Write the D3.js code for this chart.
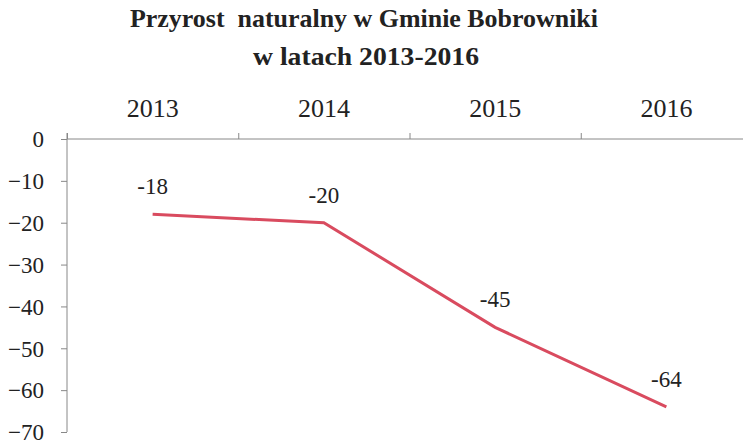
<!DOCTYPE html>
<html>
<head>
<meta charset="utf-8">
<script src="https://cdn.jsdelivr.net/npm/d3@7"></script>
<style>
  body { margin: 0; background: #fff; }
  svg { display: block; }
</style>
</head>
<body>
<div id="chart"></div>
<script>
// Données
const years = ['2013', '2014', '2015', '2016'];
const values = [-18, -20, -45, -64];
const yTicks = [0, -10, -20, -30, -40, -50, -60, -70];
const titleLines = ['Przyrost  naturalny w Gminie Bobrowniki', 'w latach 2013-2016'];

const serif = "'Liberation Serif', serif";
const width = 743, height = 441;
const svg = d3.select('#chart')
    .append('svg')
    .attr('width', width)
    .attr('height', height)
    .attr('font-family', serif);

const plotLeft = 67, plotRight = 752, plotTop = 139, plotBottom = 432;

// Échelles
const x = d3.scaleBand()
    .domain(years)
    .range([plotLeft, plotRight]);

const xEdge = d3.scaleLinear()
    .domain([0, years.length])
    .range([plotLeft, plotRight]);

const y = d3.scaleLinear()
    .domain([0, -70])
    .range([plotTop, plotBottom]);

// Titre (légèrement étiré comme dans le scan)
const titleWidths = [468, 226];
svg.append('g')
    .selectAll('text')
    .data(titleLines)
    .enter()
    .append('text')
    .attr('x', (d, i) => i === 0 ? 364 : 366)
    .attr('y', (d, i) => 27 + i * 38)
    .attr('text-anchor', 'middle')
    .attr('font-family', serif)
    .attr('font-size', '25px')
    .attr('font-weight', 'bold')
    .attr('fill', '#222')
    .attr('textLength', (d, i) => titleWidths[i])
    .attr('lengthAdjust', 'spacingAndGlyphs')
    .style('white-space', 'pre')
    .text(d => d);

// Axe X (en haut)
const xAxis = svg.append('g')
    .attr('transform', `translate(0,${plotTop})`)
    .call(d3.axisTop(xEdge).tickValues(d3.range(years.length)).tickSize(6).tickFormat(''));
xAxis.select('.domain').attr('stroke', '#888').attr('d', `M${plotLeft},0H${plotRight}`);
xAxis.selectAll('.tick line').attr('stroke', '#888');

svg.append('g')
    .selectAll('text')
    .data(years)
    .enter()
    .append('text')
    .attr('x', d => x(d) + x.bandwidth() / 2)
    .attr('y', 117)
    .attr('text-anchor', 'middle')
    .attr('font-family', serif)
    .attr('font-size', '26px')
    .attr('fill', '#222')
    .text(d => d);

// Axe Y
const yAxis = svg.append('g')
    .attr('transform', `translate(${plotLeft},0)`)
    .call(d3.axisLeft(y).tickValues(yTicks).tickSize(6).tickPadding(17));
yAxis.attr('font-family', serif);
yAxis.select('.domain').attr('stroke', '#888').attr('d', `M0,${plotTop - 6}V${plotBottom}`);
yAxis.selectAll('.tick line').attr('stroke', '#888');
yAxis.selectAll('.tick text')
    .attr('font-family', serif)
    .attr('font-size', '23px')
    .attr('fill', '#222')
    .attr('dy', '0.34em');

// Ligne
const line = d3.line()
    .x((d, i) => x(years[i]) + x.bandwidth() / 2)
    .y(d => y(d));

svg.append('path')
    .datum(values)
    .attr('d', line)
    .attr('fill', 'none')
    .attr('stroke', '#d94b5f')
    .attr('stroke-width', 3);

// Étiquettes
svg.append('g')
    .selectAll('text')
    .data(values)
    .enter()
    .append('text')
    .attr('x', (d, i) => x(years[i]) + x.bandwidth() / 2)
    .attr('y', d => y(d) - 20)
    .attr('text-anchor', 'middle')
    .attr('font-family', serif)
    .attr('font-size', '23px')
    .attr('fill', '#222')
    .text(d => d);
</script>
</body>
</html>
